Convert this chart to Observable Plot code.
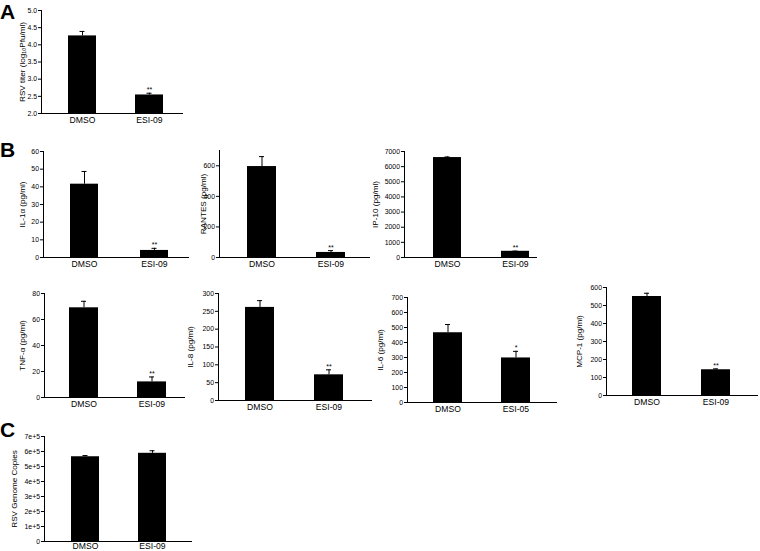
<!DOCTYPE html>
<html>
<head>
<meta charset="utf-8">
<script src="https://cdn.jsdelivr.net/npm/d3@7"></script>
<script src="https://cdn.jsdelivr.net/npm/@observablehq/plot@0.6"></script>
<style>
  html, body { margin: 0; padding: 0; background: #fff; overflow: hidden; }
  #root { position: relative; width: 760px; height: 551px; background: #fff; overflow: hidden;
          font-family: "Liberation Sans", Arial, sans-serif; }
  .panel { position: absolute; }
  .letter { position: absolute; font-weight: bold; font-size: 21px; line-height: 1;
            font-family: "Liberation Sans", Arial, sans-serif; color: #000; }
</style>
</head>
<body>
<div id="root"></div>
<script>
// ---------------- DATA ----------------
const categories = ["DMSO", "ESI-09"];
const categoriesIL6 = ["DMSO", "ESI-05"];

const rsvTiter = [4.26, 2.54];          const rsvTiterErr = [0.13, 0.05];
const il1a = [41.5, 4.0];               const il1aErr = [7.2, 1.2];
const rantes = [595, 33];               const rantesErr = [65, 12];
const ip10 = [6600, 410];               const ip10Err = [40, 15];
const tnfa = [69, 12];                  const tnfaErr = [5, 3.8];
const il8 = [261, 72];                  const il8Err = [19, 14];
const il6 = [465, 297];                 const il6Err = [55, 44];
const mcp1 = [550, 143];                const mcp1Err = [18, 5];
const genomeCopies = [565000, 588000];  const genomeCopiesErr = [8000, 17000];

const starsDouble = ["", "**"];
const starsSingle = ["", "*"];
const starsNone = ["", ""];

const ticksA = [2.0, 2.5, 3.0, 3.5, 4.0, 4.5, 5.0];
const ticksIL1a = [0, 10, 20, 30, 40, 50, 60];
const ticksRantes = [0, 200, 400, 600];
const ticksIP10 = [0, 1000, 2000, 3000, 4000, 5000, 6000, 7000];
const ticksTNF = [0, 20, 40, 60, 80];
const ticksIL8 = [0, 50, 100, 150, 200, 250, 300];
const ticksIL6 = [0, 100, 200, 300, 400, 500, 600, 700];
const ticksMCP1 = [0, 100, 200, 300, 400, 500, 600];
const ticksC = [0, 100000, 200000, 300000, 400000, 500000, 600000, 700000];

// ---------------- LAYOUT (page pixels) ----------------
const panels = [
  {cats: categories, values: rsvTiter, errs: rsvTiterErr, stars: starsDouble, domain: [2, 5], ticks: ticksA,
   fmt: d3.format(".1f"), label: "RSV titer (log\u2081\u2080Pfu/ml)",
   L: {axL: 41, axR: 183, yT: 10, yB: 113, bars: [[68, 96], [135, 163]], labX: 22, pad: 3}},
  {cats: categories, values: il1a, errs: il1aErr, stars: starsDouble, domain: [0, 60], ticks: ticksIL1a,
   fmt: d3.format("d"), label: "IL-1\u03b1 (pg/ml)",
   L: {axL: 43, axR: 189, yT: 151, yB: 257, bars: [[70, 98], [140, 168]], labX: 22, pad: 3.5}},
  {cats: categories, values: rantes, errs: rantesErr, stars: starsDouble, domain: [0, 700], ticks: ticksRantes,
   fmt: d3.format("d"), label: "RANTES (pg/ml)",
   L: {axL: 219, axR: 370, yT: 150, yB: 257, bars: [[247, 276], [316, 345]], labX: 203, pad: 3.5}},
  {cats: categories, values: ip10, errs: ip10Err, stars: starsDouble, domain: [0, 7000], ticks: ticksIP10,
   fmt: d3.format("d"), label: "IP-10 (pg/ml)",
   L: {axL: 404, axR: 537, yT: 151, yB: 257, bars: [[433, 461], [501, 529]], labX: 375, pad: 3.5}},
  {cats: categories, values: tnfa, errs: tnfaErr, stars: starsDouble, domain: [0, 80], ticks: ticksTNF,
   fmt: d3.format("d"), label: "TNF-\u03b1 (pg/ml)",
   L: {axL: 44, axR: 185, yT: 293, yB: 397, bars: [[69, 98], [138, 166]], labX: 22, pad: 3.5}},
  {cats: categories, values: il8, errs: il8Err, stars: starsDouble, domain: [0, 300], ticks: ticksIL8,
   fmt: d3.format("d"), label: "IL-8 (pg/ml)",
   L: {axL: 218, axR: 372, yT: 293, yB: 400, bars: [[245, 274], [315, 343]], labX: 190, pad: 3.5}},
  {cats: categoriesIL6, values: il6, errs: il6Err, stars: starsSingle, domain: [0, 700], ticks: ticksIL6,
   fmt: d3.format("d"), label: "IL-6 (pg/ml)",
   L: {axL: 407, axR: 557, yT: 297, yB: 402, bars: [[433, 462], [502, 530]], labX: 380, pad: 3.5}},
  {cats: categories, values: mcp1, errs: mcp1Err, stars: starsDouble, domain: [0, 600], ticks: ticksMCP1,
   fmt: d3.format("d"), label: "MCP-1 (pg/ml)",
   L: {axL: 606, axR: 758, yT: 287, yB: 395, bars: [[632, 661], [702, 730]], labX: 579, pad: 3.5}},
  {cats: categories, values: genomeCopies, errs: genomeCopiesErr, stars: starsNone, domain: [0, 700000], ticks: ticksC,
   fmt: d => d === 0 ? "0" : `${Math.round(d / 1e5)}e+5`, label: "RSV Genome Copies",
   L: {axL: 44, axR: 192, yT: 436, yB: 541, bars: [[71, 99], [138, 166]], labX: 13.5, pad: 1}}
];

const letters = [
  {t: "A", x: 0, base: 18.5},
  {t: "B", x: 0, base: 157},
  {t: "C", x: 0, base: 437}
];

const FONT = "'Liberation Sans', Arial, sans-serif";
const root = document.getElementById("root");

function makePanel(cfg) {
  const {cats, values, errs, stars, domain, ticks, fmt, label, L} = cfg;
  const data = cats.map((c, i) => ({cat: c, v: values[i], e: errs[i], s: stars[i]}));
  const mL = 42, mR = 4, mT = 10, mB = 22;
  const left = L.axL - mL;
  const top = L.yT - mT;
  const width = mL + (L.axR - L.axL) + mR;
  const height = mT + (L.yB - L.yT) + mB;
  const bw = L.bars[0][1] - L.bars[0][0];
  const r0 = L.bars[0][0] - left, r1 = L.bars[1][1] - left;
  const step = (r1 - r0) - bw;
  const pi = 1 - bw / step;
  const base = domain[0];
  const capInset = (bw - 5) / 2;

  const chart = Plot.plot({
    width, height,
    marginLeft: mL, marginRight: mR, marginTop: mT, marginBottom: mB,
    x: {type: "band", domain: cats, range: [r0, r1], paddingInner: pi, paddingOuter: 0, axis: null},
    y: {domain, axis: null},
    style: {background: "transparent", overflow: "visible", maxWidth: "none", fontFamily: FONT, fontSize: "6.8px", color: "#000"},
    marks: [
      Plot.barY(data, {x: "cat", y1: () => base, y2: "v", fill: "#000"}),
      Plot.ruleX(data, {x: "cat", y1: "v", y2: d => d.v + d.e, stroke: "#000", strokeWidth: 1}),
      Plot.tickY(data, {x: "cat", y: d => d.v + d.e, stroke: "#000", strokeWidth: 1, insetLeft: capInset, insetRight: capInset}),
      Plot.text(data, {x: "cat", y: d => d.v + d.e, text: "s", dy: -1, lineAnchor: "bottom", fontSize: 7, fill: "#000"}),
      Plot.ruleY([base], {stroke: "#000", strokeWidth: 1}),
      Plot.frame({anchor: "left", stroke: "#000", strokeWidth: 1}),
      Plot.axisY({ticks, tickFormat: fmt, tickSize: 3, tickPadding: 1.5, label: null, fontSize: 6.9, stroke: "#000", fill: "#000"}),
      Plot.axisX({tickSize: 0, tickPadding: L.pad, label: null, fontSize: 8.6, fill: "#000"}),
      Plot.text([label], {text: d => d, frameAnchor: "left", textAnchor: "middle", rotate: -90, dx: L.labX - L.axL, fontSize: 8.1, fill: "#000"})
    ]
  });
  const wrap = document.createElement("div");
  wrap.className = "panel";
  wrap.style.left = left + "px";
  wrap.style.top = top + "px";
  wrap.appendChild(chart);
  root.appendChild(wrap);
}

panels.forEach(makePanel);

letters.forEach(l => {
  const d = document.createElement("div");
  d.className = "letter";
  d.textContent = l.t;
  d.style.left = l.x + "px";
  d.style.top = (l.base - 17.8) + "px";
  root.appendChild(d);
});
</script>
</body>
</html>
